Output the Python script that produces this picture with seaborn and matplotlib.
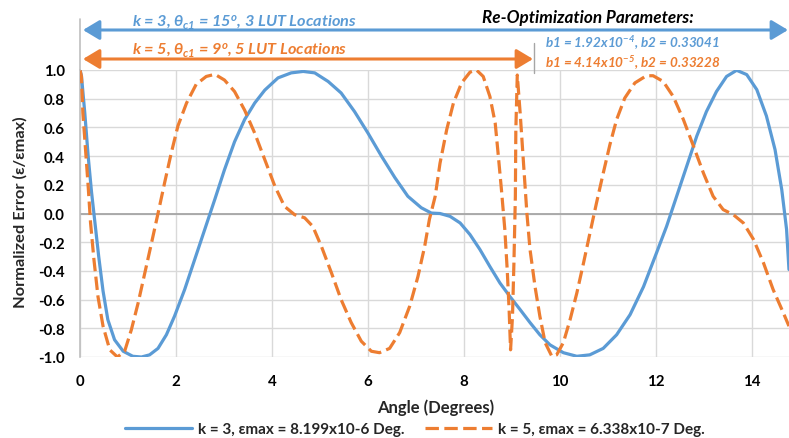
import matplotlib
matplotlib.use("Agg")
import matplotlib.pyplot as plt
import pandas as pd
import seaborn as sns
from matplotlib.patches import FancyArrowPatch
from matplotlib.lines import Line2D

# ---------------- data ----------------
blue_x = [0.00, 0.03, 0.10, 0.17, 0.24, 0.29, 0.39, 0.48, 0.58, 0.72, 0.90, 1.10, 1.28,
          1.45, 1.625, 1.80, 1.97, 2.18, 2.39, 2.60, 2.81, 3.01, 3.22, 3.43, 3.64, 3.85,
          4.125, 4.40, 4.65, 4.89, 5.17, 5.44, 5.72, 6.00, 6.28, 6.56, 6.83, 7.11, 7.32,
          7.50, 7.71, 7.92, 8.125, 8.33, 8.54, 8.75, 8.96, 9.17, 9.375, 9.58, 9.79, 10.07,
          10.35, 10.62, 10.90, 11.18, 11.46, 11.74, 12.01, 12.22, 12.43, 12.64, 12.85,
          13.05, 13.26, 13.47, 13.68, 13.89, 14.10, 14.30, 14.48, 14.62, 14.72, 14.77]
blue_y = [1.00, 0.96, 0.70, 0.40, 0.15, 0.00, -0.30, -0.54, -0.74, -0.88, -0.96, -0.995, -1.00,
          -0.985, -0.94, -0.845, -0.715, -0.53, -0.32, -0.11, 0.10, 0.305, 0.50, 0.655, 0.77, 0.86,
          0.945, 0.98, 0.99, 0.98, 0.92, 0.84, 0.71, 0.56, 0.40, 0.25, 0.12, 0.04, 0.003,
          0.00, -0.02, -0.066, -0.147, -0.25, -0.37, -0.485, -0.58, -0.67, -0.76, -0.845, -0.915, -0.97,
          -0.995, -0.985, -0.94, -0.845, -0.705, -0.51, -0.275, -0.09, 0.12, 0.33, 0.54,
          0.71, 0.85, 0.955, 0.998, 0.968, 0.863, 0.68, 0.445, 0.166, -0.11, -0.39]

orange_x = [0.00, 0.03, 0.06, 0.11, 0.17, 0.22, 0.29, 0.375, 0.48, 0.62, 0.78, 0.93, 1.07,
            1.21, 1.35, 1.49, 1.625, 1.76, 1.90, 2.04, 2.22, 2.42, 2.63, 2.81, 3.01, 3.22,
            3.43, 3.64, 3.85, 4.06, 4.26, 4.47, 4.68, 4.85, 5.03, 5.24, 5.44, 5.65, 5.86,
            6.07, 6.24, 6.45, 6.66, 6.87, 7.04, 7.18, 7.28, 7.40, 7.50, 7.64, 7.78, 7.95,
            8.125, 8.26, 8.40, 8.54, 8.65, 8.71, 8.78, 8.85, 8.90, 8.94, 8.97, 9.01, 9.04,
            9.07, 9.08, 9.11, 9.17, 9.24, 9.31, 9.375, 9.48, 9.58, 9.69, 9.83, 9.93, 10.07,
            10.21, 10.35, 10.49, 10.625, 10.76, 10.90, 11.04, 11.18, 11.35, 11.56, 11.80,
            11.94, 12.15, 12.36, 12.57, 12.78, 12.99, 13.19, 13.40, 13.61, 13.82, 14.03,
            14.24, 14.44, 14.65, 14.77]
orange_y = [1.00, 0.955, 0.70, 0.47, 0.19, -0.066, -0.32, -0.58, -0.785, -0.95, -1.00, -0.96, -0.81,
            -0.625, -0.415, -0.205, 0.00, 0.21, 0.42, 0.61, 0.77, 0.90, 0.955, 0.97, 0.93, 0.85,
            0.72, 0.56, 0.375, 0.19, 0.05, -0.008, -0.03, -0.09, -0.23, -0.415, -0.60, -0.76, -0.89,
            -0.96, -0.97, -0.94, -0.83, -0.645, -0.44, -0.23, -0.04, 0.12, 0.35, 0.585, 0.77, 0.91,
            0.985, 1.00, 0.955, 0.815, 0.63, 0.42, 0.166, -0.11, -0.39, -0.67, -0.95, -0.72, -0.345,
            0.12, 0.585, 0.965, 0.70, 0.35, 0.003, -0.25, -0.51, -0.715, -0.90, -0.995, -0.985, -0.90,
            -0.74, -0.555, -0.345, -0.135, 0.073, 0.28, 0.48, 0.655, 0.805, 0.91, 0.96,
            0.96, 0.92, 0.815, 0.655, 0.47, 0.28, 0.12, 0.027, -0.008, -0.066, -0.18,
            -0.345, -0.53, -0.69, -0.785]

series_names = ["k = 3, εmax = 8.199x10-6 Deg.", "k = 5, εmax = 6.338x10-7 Deg."]
x_ticks = [0, 2, 4, 6, 8, 10, 12, 14]
x_tick_labels = ["0", "2", "4", "6", "8", "10", "12", "14"]
y_ticks = [-1.0, -0.8, -0.6, -0.4, -0.2, 0.0, 0.2, 0.4, 0.6, 0.8, 1.0]
y_tick_labels = ["-1.0", "-0.8", "-0.6", "-0.4", "-0.2", "0.0", "0.2", "0.4", "0.6", "0.8", "1.0"]
x_label = "Angle (Degrees)"
y_label = "Normalized Error (ε/εmax)"
note_k3 = r"k = 3, θ$_{c1}$ = 15$^{o}$, 3 LUT Locations"
note_k5 = r"k = 5, θ$_{c1}$ = 9$^{o}$, 5 LUT Locations"
note_title = "Re-Optimization Parameters:"
note_b_k3 = r"b1 = 1.92x10$^{-4}$, b2 = 0.33041"
note_b_k5 = r"b1 = 4.14x10$^{-5}$, b2 = 0.33228"

BLUE = "#5B9BD5"
ORANGE = "#ED7D31"
W, H = 789, 439

# ---------------- style ----------------
sns.set_theme(style="white")
plt.rcParams["font.family"] = ["Lato", "DejaVu Sans"]
plt.rcParams["font.weight"] = "bold"
plt.rcParams["mathtext.fontset"] = "custom"
plt.rcParams["mathtext.rm"] = "Lato:bold:italic"
plt.rcParams["mathtext.it"] = "Lato:bold:italic"
plt.rcParams["mathtext.bf"] = "Lato:bold:italic"
plt.rcParams["axes.unicode_minus"] = False
plt.rcParams["lines.solid_joinstyle"] = "round"
plt.rcParams["lines.solid_capstyle"] = "round"
plt.rcParams["lines.dash_joinstyle"] = "round"


def fx(px):
    return px / W


def fy(py):
    return 1 - py / H


fig = plt.figure(figsize=(W / 100, H / 100), dpi=100)
ax = fig.add_axes([fx(80), fy(358), (W - 80) / W, (358 - 71) / H])

df = pd.concat([
    pd.DataFrame({"x": blue_x, "y": blue_y, "series": series_names[0]}),
    pd.DataFrame({"x": orange_x, "y": orange_y, "series": series_names[1]}),
], ignore_index=True)

LW = 2.3
DASH = (4.2, 1.7)
sns.lineplot(data=df, x="x", y="y", hue="series", style="series",
             palette={series_names[0]: BLUE, series_names[1]: ORANGE},
             dashes={series_names[0]: "", series_names[1]: DASH},
             sort=False, estimator=None, linewidth=LW, legend=False, ax=ax, zorder=3)

ax.set_xlim(0, (W - 80) / 48.0)
ax.set_ylim(-1.0, 1.0)
ax.set_xticks(x_ticks)
ax.set_xticklabels(x_tick_labels)
ax.set_yticks(y_ticks)
ax.set_yticklabels(y_tick_labels)
ax.tick_params(axis="both", length=0, labelsize=10.8, colors="black")
ax.tick_params(axis="y", pad=11)
ax.tick_params(axis="x", pad=12)
for lab in ax.get_xticklabels() + ax.get_yticklabels():
    lab.set_fontweight("bold")

ax.grid(True, color="#D9D9D9", linewidth=1.0, zorder=0)
ax.axhline(0, color="#A6A6A6", linewidth=1.3, zorder=1)
for s in ["top", "right", "bottom"]:
    ax.spines[s].set_visible(False)
ax.spines["left"].set_color("#BFBFBF")
ax.spines["left"].set_linewidth(1.2)

ax.set_xlabel(x_label, fontsize=12, fontweight="bold", va="center")
ax.xaxis.set_label_coords((436 - 80) / (W - 80), (358 - 408) / 287)
ax.set_ylabel(y_label, fontsize=11.8, fontweight="bold", va="center", ha="center")
ax.yaxis.set_label_coords((20 - 80) / (W - 80), (358 - 212) / 287)

# ---------------- annotations ----------------
fig.add_artist(Line2D([fx(80), fx(80)], [fy(20), fy(71)], color="#BFBFBF", linewidth=1.2))
fig.add_artist(Line2D([fx(534), fx(534)], [fy(44), fy(74)], color="#A6A6A6", linewidth=1.0))

arrow_style = "<|-|>,head_length=0.5,head_width=0.3"
fig.add_artist(FancyArrowPatch((fx(83), fy(31)), (fx(788), fy(31)), transform=fig.transFigure,
                               arrowstyle=arrow_style, mutation_scale=20, color=BLUE,
                               linewidth=2.2, shrinkA=0, shrinkB=0))
fig.add_artist(FancyArrowPatch((fx(83), fy(60)), (fx(533), fy(60)), transform=fig.transFigure,
                               arrowstyle=arrow_style, mutation_scale=20, color=ORANGE,
                               linewidth=2.2, shrinkA=0, shrinkB=0))

fig.text(fx(132), fy(26), note_k3, color=BLUE, fontsize=11.7, fontweight="bold",
         style="italic", ha="left", va="baseline")
fig.text(fx(132), fy(54), note_k5, color=ORANGE, fontsize=11.7, fontweight="bold",
         style="italic", ha="left", va="baseline")
fig.text(fx(482), fy(23), note_title, color="black", fontsize=12.3, fontweight="bold",
         style="italic", ha="left", va="baseline")
fig.text(fx(545), fy(48), note_b_k3, color=BLUE, fontsize=9.7, fontweight="bold",
         style="italic", ha="left", va="baseline")
fig.text(fx(545), fy(68), note_b_k5, color=ORANGE, fontsize=9.7, fontweight="bold",
         style="italic", ha="left", va="baseline")

# ---------------- legend ----------------
handles = [Line2D([], [], color=BLUE, linewidth=LW),
           Line2D([], [], color=ORANGE, linewidth=LW, dashes=DASH)]
fig.legend(handles, series_names, loc="center", bbox_to_anchor=(fx(415), fy(430)),
           ncol=2, frameon=False, handlelength=4.4, handletextpad=0.4, columnspacing=1.3,
           prop={"weight": "bold", "size": 11, "family": ["Lato", "DejaVu Sans"]})

fig.savefig("out.png", dpi=100)
